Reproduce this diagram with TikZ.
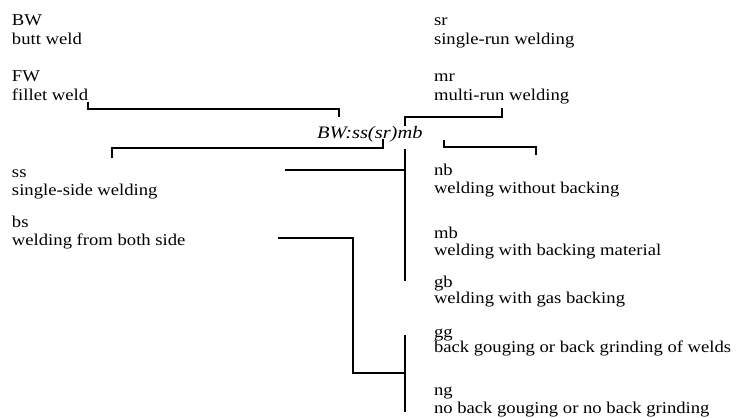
\documentclass[tikz,border=0pt]{standalone}
\usepackage{fontspec}
\setmainfont{Liberation Serif}
\newfontfamily\widefont[FakeStretch=1.13]{Liberation Serif}
\newfontfamily\widecode[FakeStretch=1.17]{Liberation Serif Italic}
\usetikzlibrary{positioning}

\tikzset{
  entry/.style={anchor=north west, inner sep=0pt, outer sep=0pt, align=left,
    font=\widefont\fontsize{16.5}{18}\selectfont},
  codepart/.style={anchor=base west, inner sep=0pt, outer sep=0pt,
    font=\widecode\fontsize{17.5}{17.5}\selectfont},
  link/.style={line width=2pt},
}

\begin{document}
\begin{tikzpicture}[x=1pt,y=-1pt]
  \useasboundingbox (0,0) rectangle (737,418);

  % left column (north = first baseline - 12.6)
  \node[entry] (bw) at (12,12.4) {\strut BW\\[1pt]butt weld};
  \node[entry] (fw) at (12,68.4) {\strut FW\\[1pt]fillet weld};
  \node[entry] (ss) at (12,164.4) {\strut ss\\single-side welding};
  \node[entry] (bs) at (12,214.4) {\strut bs\\welding from both side};

  % right column
  \node[entry] (sr) at (434,12.4) {\strut sr\\[1pt]single-run welding};
  \node[entry] (mr) at (434,68.4) {\strut mr\\[1pt]multi-run welding};
  \node[entry] (nb) at (434,162.4) {\strut nb\\welding without backing};
  \node[entry] (mb) at (434,225.4) {\strut mb\\[-1pt]welding with backing material};
  \node[entry] (gb) at (434,274.4) {\strut gb\\[-2pt]welding with gas backing};
  \node[entry] (gg) at (434,324.4) {\strut gg\\[-3pt]back gouging or back grinding of welds};
  \node[entry] (ng) at (434,382.4) {\strut ng\\no back gouging or no back grinding};

  % the designation
  \node[codepart] (cbw) at (317,138.5) {BW:};
  \node[codepart] (css) at (cbw.base east) {ss};
  \node[codepart] (csr) at (css.base east) {(sr)};
  \node[codepart] (cmb) at (csr.base east) {mb};

  \coordinate (mbtop) at ([xshift=-5pt,yshift=-10pt]cmb.south);
  \coordinate (ssend) at (285,170);
  \coordinate (nbl) at (444,140);
  \coordinate (nbr) at (536,155);
  \coordinate (bsend) at (278,238);

  % brackets
  \draw[link] ([yshift=-2pt]fw.south east) |- ([xshift=4pt,yshift=18pt]cbw.north)
    -- ([xshift=4pt,yshift=10pt]cbw.north);
  \draw[link] ([xshift=100pt,yshift=6pt]ss.north west) |- ([yshift=-9.5pt]csr.base)
    -- (csr.base);
  \draw[link] ([yshift=-4pt]mr.south) |- ([xshift=-5pt,yshift=9.5pt]cmb.north)
    -- ([xshift=-5pt]cmb.north);
  \draw[link] (nbl) -- ++(0,7) -| (nbr);

  \draw[link] (mbtop) -- (mbtop |- 0,281);
  \draw[link] (ssend) -- (ssend -| mbtop);

  \draw[link] (bsend) -- ++(75,0) |- (mbtop |- 0,373);
  \draw[link] (mbtop |- 0,335) -- (mbtop |- 0,412);
\end{tikzpicture}
\end{document}
